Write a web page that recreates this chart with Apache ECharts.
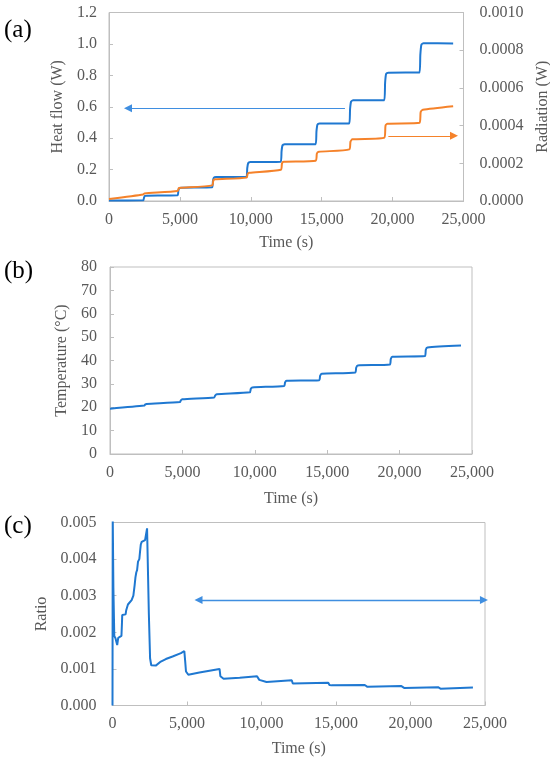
<!DOCTYPE html>
<html><head><meta charset="utf-8">
<script src="https://cdn.jsdelivr.net/npm/echarts@6/dist/echarts.min.js"></script>
<style>html,body{margin:0;padding:0;background:#fff}#c{width:550px;height:763px}</style>
</head><body><div id="c"></div>
<script>
// ---- Data ----
const xTicks = [0, 5000, 10000, 15000, 20000, 25000];

// (a) Heat flow (W), left axis
const heatFlow = [
  [0,0.003],[2410,0.004],[2470,0.022],[2540,0.032],[2690,0.034],
  [4830,0.036],[4890,0.066],[4960,0.081],[5110,0.085],
  [7270,0.087],[7330,0.128],[7400,0.149],[7550,0.153],
  [9690,0.154],[9750,0.21],[9820,0.242],[9970,0.248],
  [12110,0.25],[12170,0.318],[12240,0.355],[12390,0.361],
  [14570,0.362],[14630,0.442],[14700,0.486],[14850,0.493],
  [16940,0.494],[17000,0.585],[17070,0.633],[17220,0.641],
  [19410,0.642],[19470,0.75],[19540,0.808],[19690,0.817],
  [21895,0.818],[21955,0.93],[22030,0.995],[22180,1.004],
  [24270,1.003]
];
// (a) Radiation (W), right axis
const radiation = [
  [0,0.000011],[2420,0.000035],[2500,0.00004],[4840,0.000053],[4920,0.000068],[5050,0.00007],
  [7280,0.000083],[7360,0.00011],[7480,0.000115],[9700,0.000124],[9780,0.000145],[9900,0.00015],
  [12120,0.000166],[12200,0.0002],[12330,0.000208],[14580,0.000214],[14660,0.000252],[14800,0.000261],
  [16950,0.000274],[17030,0.000315],[17170,0.000327],[19420,0.000336],[19500,0.0004],[19640,0.00041],
  [21900,0.000415],[21980,0.000472],[22130,0.000484],[24270,0.000503]
];
// (b) Temperature (°C)
const temperature = [
  [0,19.4],[2360,20.7],[2420,21.1],[2520,21.4],[4830,22.2],[4890,22.9],[4990,23.4],
  [7200,24.2],[7260,25.0],[7370,25.6],[9660,26.4],[9720,27.8],[9830,28.5],
  [12030,29.1],[12090,30.6],[12200,31.3],[14450,31.6],[14510,33.4],[14620,34.3],
  [16940,34.9],[17000,36.9],[17110,37.9],[19330,38.3],[19390,40.6],[19500,41.6],
  [21750,41.9],[21810,44.6],[21920,45.6],[24240,46.4]
];
// (c) Ratio
const ratio = [
  [0,0],[15,0.0052],[60,0.0032],[120,0.0019],[200,0.00184],[315,0.00165],[383,0.00185],
  [600,0.0019],[630,0.0022],[653,0.00247],[878,0.00249],[920,0.0026],[1036,0.00276],
  [1284,0.00288],[1400,0.0030],[1486,0.00329],[1540,0.0035],[1599,0.00364],[1650,0.0037],
  [1712,0.00393],[1779,0.0039],[1800,0.004],[1847,0.0042],[1900,0.0044],[1959,0.00447],
  [2185,0.00452],[2297,0.00456],[2320,0.00484],[2390,0.0048],[2440,0.0025],[2522,0.00129],
  [2600,0.0011],[2905,0.00109],[3243,0.0012],[3581,0.00127],[4031,0.00134],[4595,0.00143],
  [4820,0.00149],[4880,0.0012],[4932,0.00093],[5090,0.00084],[5833,0.0009],[7185,0.001],
  [7240,0.0008],[7297,0.00076],[7455,0.00073],[8536,0.00076],[9700,0.0008],[9775,0.00081],
  [9850,0.0007],[9932,0.00065],[10338,0.00064],[12030,0.00069],[12100,0.0006],[12180,0.00059],
  [14480,0.00062],[14560,0.00056],[14700,0.00055],[16930,0.00056],[17000,0.00052],[17110,0.00051],
  [19390,0.00053],[19450,0.00049],[19570,0.00048],[21850,0.0005],[21920,0.00047],[22010,0.00046],
  [24190,0.00049]
];
// Arrow annotations [x1, y1, x2, y2] in data units
const arrowHeat = [16640, 0.59, 1340, 0.59];
const arrowRad = [19700, 0.000346, 24330, 0.000346];
const arrowRatio = [5770, 0.00288, 24930, 0.00288];
const panelLabels = ['(a)', '(b)', '(c)'];

// ---- Styling ----
const FONT = 'Liberation Serif';
const GRAY = '#595959';
const LINEGRAY = '#bfbfbf';
const BLUE = '#1f78d1';
const ORANGE = '#f5822a';

function xAx(grid, margin, nameGap) {
  return {
    type: 'value', gridIndex: grid, min: 0, max: 25000, interval: 5000,
    name: 'Time (s)', nameLocation: 'middle', nameGap: nameGap,
    nameTextStyle: {fontFamily: FONT, fontSize: 16, color: GRAY},
    axisLine: {show: true, lineStyle: {color: LINEGRAY}},
    axisTick: {show: true, inside: true, length: 4, lineStyle: {color: LINEGRAY}},
    axisLabel: {fontFamily: FONT, fontSize: 16, color: GRAY, margin: margin,
      formatter: v => v.toLocaleString('en-US')},
    splitLine: {show: false}
  };
}
function yAx(grid, min, max, interval, dec, name, nameGap, margin, pos) {
  return {
    type: 'value', gridIndex: grid, min: min, max: max, interval: interval, position: pos || 'left',
    name: name, nameLocation: 'middle', nameGap: nameGap,
    nameTextStyle: {fontFamily: FONT, fontSize: 16, color: GRAY},
    axisLine: {show: true, lineStyle: {color: LINEGRAY}},
    axisTick: {show: true, inside: true, length: 4, lineStyle: {color: LINEGRAY}},
    axisLabel: {fontFamily: FONT, fontSize: 16, color: GRAY, margin: margin,
      formatter: v => v.toFixed(dec)},
    splitLine: {show: false}
  };
}
function arrow(a, color, width, both) {
  return {
    silent: true, animation: false,
    symbol: both ? ['triangle', 'triangle'] : ['none', 'triangle'],
    symbolSize: 8,
    label: {show: false},
    lineStyle: {color: color, width: width, type: 'solid'},
    emphasis: {disabled: true},
    data: [[{coord: [a[0], a[1]]}, {coord: [a[2], a[3]]}]]
  };
}
const gridBase = {show: true, borderColor: LINEGRAY, borderWidth: 1, containLabel: false, outerBoundsMode: 'none'};

const chart = echarts.init(document.getElementById('c'), null, {renderer: 'canvas'});
chart.setOption({
  animation: false,
  backgroundColor: '#fff',
  grid: [
    Object.assign({left: 109, top: 12.5, width: 354.5, height: 188.5}, gridBase),
    Object.assign({left: 110, top: 267, width: 362, height: 187}, gridBase),
    Object.assign({left: 112.5, top: 522.5, width: 372.5, height: 183}, gridBase)
  ],
  xAxis: [xAx(0, 11, 34), xAx(1, 11, 37), xAx(2, 10, 35)],
  yAxis: [
    yAx(0, 0, 1.2, 0.2, 1, 'Heat flow (W)', 38, 12),
    yAx(0, 0, 0.001, 0.0002, 4, 'Radiation (W)', 66, 16, 'right'),
    yAx(1, 0, 80, 10, 0, 'Temperature (°C)', 35, 13),
    yAx(2, 0, 0.005, 0.001, 3, 'Ratio', 56, 16)
  ],
  series: [
    {type: 'line', xAxisIndex: 0, yAxisIndex: 0, data: heatFlow, showSymbol: false, smooth: 0.2,
      lineStyle: {color: BLUE, width: 2}, itemStyle: {color: BLUE}, markLine: arrow(arrowHeat, '#3f8ee0', 1, false)},
    {type: 'line', xAxisIndex: 0, yAxisIndex: 1, data: radiation, showSymbol: false, smooth: 0.2,
      lineStyle: {color: ORANGE, width: 2}, itemStyle: {color: ORANGE}, markLine: arrow(arrowRad, ORANGE, 1, false)},
    {type: 'line', xAxisIndex: 1, yAxisIndex: 2, data: temperature, showSymbol: false, smooth: 0.2,
      lineStyle: {color: BLUE, width: 2}, itemStyle: {color: BLUE}},
    {type: 'line', xAxisIndex: 2, yAxisIndex: 3, data: ratio, showSymbol: false,
      lineStyle: {color: BLUE, width: 2}, itemStyle: {color: BLUE}, markLine: arrow(arrowRatio, '#3f8ee0', 1.3, true)}
  ],
  graphic: [
    {type: 'text', left: 4, top: 18, style: {text: panelLabels[0], font: '25px "Liberation Serif"', fill: '#000'}},
    {type: 'text', left: 4, top: 259, style: {text: panelLabels[1], font: '25px "Liberation Serif"', fill: '#000'}},
    {type: 'text', left: 4, top: 514, style: {text: panelLabels[2], font: '25px "Liberation Serif"', fill: '#000'}}
  ]
});
</script></body></html>
